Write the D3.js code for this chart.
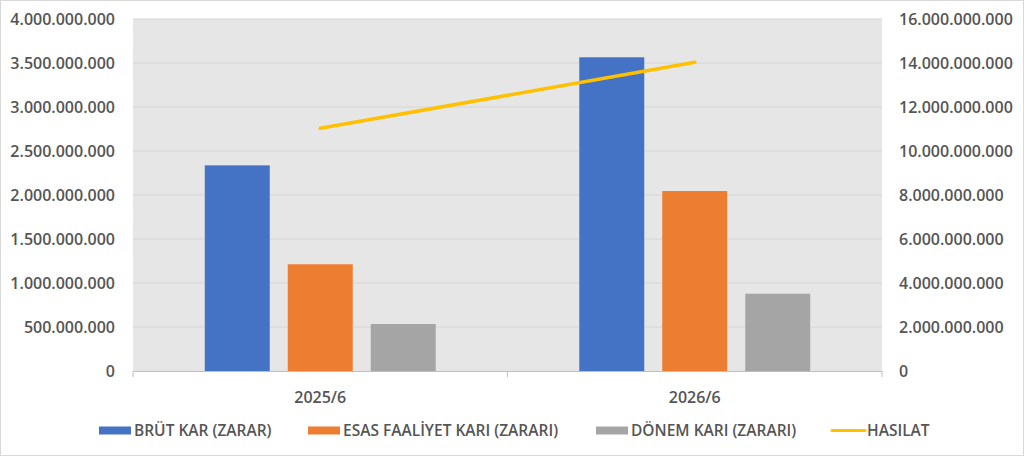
<!DOCTYPE html>
<html>
<head>
<meta charset="utf-8">
<script src="https://cdn.jsdelivr.net/npm/d3@7"></script>
<style>
  body { margin: 0; background: #fff; }
  text { font-family: "Open Sans", sans-serif; font-weight: 600; fill: #555; }
</style>
</head>
<body>
<svg id="chart"></svg>
<script>
// data
var categories = ["2025/6", "2026/6"];
var seriesNames = ["BRÜT KAR (ZARAR)", "ESAS FAALİYET KARI (ZARARI)", "DÖNEM KARI (ZARARI)"];
var brutKar = [2337000000, 3565000000];
var esasFaaliyet = [1213000000, 2045000000];
var donemKari = [534000000, 878000000];
var hasilat = [11030000000, 14030000000];
var lineName = "HASILAT";
var leftTicks = [0, 500000000, 1000000000, 1500000000, 2000000000, 2500000000, 3000000000, 3500000000, 4000000000];
var rightTicks = [0, 2000000000, 4000000000, 6000000000, 8000000000, 10000000000, 12000000000, 14000000000, 16000000000];

var colors = ["#4472C4", "#ED7D31", "#A5A5A5"];
var lineColor = "#FFC000";

var W = 1024, H = 457;
var margin = {top: 19, right: 142, bottom: 86, left: 133},
    width = W - margin.left - margin.right,
    height = H - margin.top - margin.bottom;

var svg = d3.select("#chart").attr("width", W).attr("height", H);

// chart frame
svg.append("rect")
  .attr("x", 0.5).attr("y", 0.5)
  .attr("width", W - 1).attr("height", H - 2)
  .attr("fill", "#fff").attr("stroke", "#d9d9d9");

var g = svg.append("g")
  .attr("transform", "translate(" + margin.left + "," + margin.top + ")");

var loc = d3.formatLocale({decimal: ",", thousands: ".", grouping: [3], currency: ["", ""]});
var fmt = loc.format(",d");

var x = d3.scaleBand().domain(categories).range([0, width]);
var xs = d3.scaleBand().domain(seriesNames).range([0, x.bandwidth()])
  .paddingInner(0.217).paddingOuter(0.865);
var y = d3.scaleLinear().domain([0, 4000000000]).range([height, 0]);
var y2 = d3.scaleLinear().domain([0, 16000000000]).range([height, 0]);

// plot background
g.append("rect").attr("width", width).attr("height", height).attr("fill", "#e6e6e6");

// gridlines
g.append("g").selectAll("line")
  .data(leftTicks.slice(1))
  .enter().append("line")
    .attr("x1", 0).attr("x2", width)
    .attr("y1", function(d) { return y(d); })
    .attr("y2", function(d) { return y(d); })
    .attr("stroke", "#d6d6d6").attr("stroke-width", 1.2);

// left axis
var yAxis = g.append("g")
  .call(d3.axisLeft(y).tickValues(leftTicks).tickFormat(fmt).tickSize(0).tickPadding(18));
yAxis.select(".domain").remove();
yAxis.selectAll("text").style("font-size", "16px");

// right axis
var yAxis2 = g.append("g")
  .attr("transform", "translate(" + width + ",0)")
  .call(d3.axisRight(y2).tickValues(rightTicks).tickFormat(fmt).tickSize(0).tickPadding(17));
yAxis2.select(".domain").remove();
yAxis2.selectAll("text").style("font-size", "16px");

// bars
var seriesData = [brutKar, esasFaaliyet, donemKari];
categories.forEach(function(cat, ci) {
  g.append("g")
    .attr("transform", "translate(" + x(cat) + ",0)")
    .selectAll("rect")
    .data(seriesNames)
    .enter().append("rect")
      .attr("x", function(d) { return xs(d); })
      .attr("y", function(d, i) { return y(seriesData[i][ci]); })
      .attr("width", xs.bandwidth())
      .attr("height", function(d, i) { return height - y(seriesData[i][ci]); })
      .attr("fill", function(d, i) { return colors[i]; });
});

// bottom axis
var xAxis = g.append("g")
  .attr("transform", "translate(0," + height + ")")
  .call(d3.axisBottom(x).tickSize(0).tickPadding(21));
xAxis.select(".domain").attr("stroke", "#bfbfbf");
xAxis.selectAll("text").style("font-size", "16px");
g.append("g").selectAll("line")
  .data([0, width / 2, width])
  .enter().append("line")
    .attr("x1", function(d) { return d; }).attr("x2", function(d) { return d; })
    .attr("y1", height).attr("y2", height + 6)
    .attr("stroke", "#bfbfbf");

// line series
var line = d3.line()
  .x(function(d, i) { return x(categories[i]) + x.bandwidth() / 2; })
  .y(function(d) { return y2(d); });
g.append("path")
  .datum(hasilat)
  .attr("d", line)
  .attr("fill", "none")
  .attr("stroke", lineColor)
  .attr("stroke-width", 3.5)
  .attr("stroke-linecap", "round");

// legend
var legendItems = [
  {name: seriesNames[0], color: colors[0], type: "rect", x: 99},
  {name: seriesNames[1], color: colors[1], type: "rect", x: 308},
  {name: seriesNames[2], color: colors[2], type: "rect", x: 596},
  {name: lineName, color: lineColor, type: "line", x: 832}
];
var legend = svg.append("g");
legendItems.forEach(function(d) {
  var it = legend.append("g").attr("transform", "translate(" + d.x + ",430)");
  if (d.type === "rect") {
    it.append("rect").attr("x", 0).attr("y", -3.5).attr("width", 32).attr("height", 8).attr("fill", d.color);
  } else {
    it.append("line").attr("x1", 0).attr("x2", 33).attr("y1", 0.5).attr("y2", 0.5)
      .attr("stroke", d.color).attr("stroke-width", 3).attr("stroke-linecap", "round");
  }
  it.append("text").attr("x", 35).attr("y", 6).style("font-size", "15.5px").text(d.name);
});
</script>
</body>
</html>
